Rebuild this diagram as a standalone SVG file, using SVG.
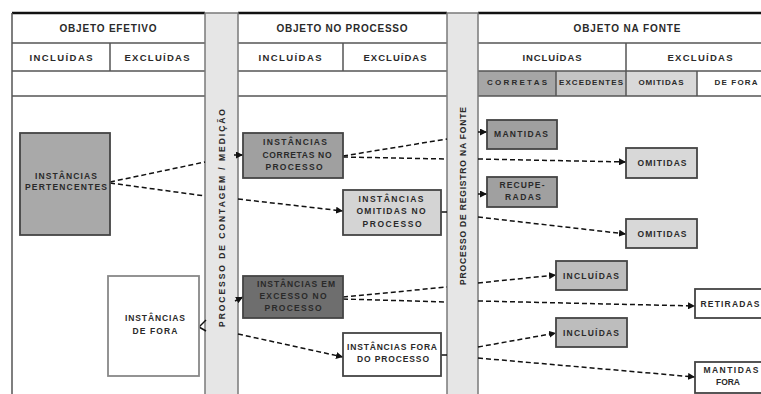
<svg xmlns="http://www.w3.org/2000/svg" width="761" height="394" viewBox="0 0 761 394">
<style>
text{font-family:"Liberation Sans",Arial,sans-serif;font-weight:bold;fill:#2a2a2a;text-anchor:middle}
.h1{font-size:10px}
.h2{font-size:9.5px}
.h3{font-size:8px}
.n{font-size:8.5px}
.bt{font-size:8.5px}
.grid{stroke:#555;stroke-width:1.5;fill:none}
.top{stroke:#111;stroke-width:2.5}
.bar{fill:#e6e6e6;stroke:#7a7a7a;stroke-width:1.5}
.node{stroke:#444;stroke-width:1.8}
.c{stroke:#111;stroke-width:1.5;stroke-dasharray:5 3;fill:none}
.s{stroke:#111;stroke-width:1.5;fill:none}
.a{marker-end:url(#ah)}
</style>
<defs>
<marker id="ah" viewBox="0 0 8 8" refX="8" refY="4" markerWidth="7" markerHeight="7" markerUnits="userSpaceOnUse" orient="auto">
<path d="M0,0 L8,4 L0,8 z" fill="#111"/>
</marker>
</defs>
<rect width="761" height="394" fill="#fff"/>

<g id="headers">
<rect x="478" y="71" width="78" height="25" fill="#a6a6a6"/>
<rect x="556" y="71" width="70" height="25" fill="#c4c4c4"/>
<rect x="626" y="71" width="71" height="25" fill="#d9d9d9"/>
<line class="top" x1="12" y1="13" x2="205" y2="13"/>
<line class="top" x1="238" y1="13" x2="447" y2="13"/>
<line class="top" x1="478" y1="13" x2="761" y2="13"/>
<path class="grid" d="M12,13 V394 M12,43 H205 M12,71 H205 M12,96 H205 M110,43 V71"/>
<path class="grid" d="M238,43 H447 M238,71 H447 M238,96 H447 M343,43 V71"/>
<path class="grid" d="M478,43 H761 M478,71 H761 M478,96 H761 M626,43 V96 M556,71 V96 M697,71 V96"/>
<text class="h1" x="108" y="32" textLength="97" lengthAdjust="spacing">OBJETO EFETIVO</text>
<text class="h2" x="61" y="61" textLength="63" lengthAdjust="spacing">INCLUÍDAS</text>
<text class="h2" x="157" y="61" textLength="65" lengthAdjust="spacing">EXCLUÍDAS</text>
<text class="h1" x="342" y="32" textLength="131" lengthAdjust="spacing">OBJETO NO PROCESSO</text>
<text class="h2" x="290" y="61" textLength="63" lengthAdjust="spacing">INCLUÍDAS</text>
<text class="h2" x="395" y="61" textLength="63" lengthAdjust="spacing">EXCLUÍDAS</text>
<text class="h1" x="627" y="32" textLength="107" lengthAdjust="spacing">OBJETO NA FONTE</text>
<text class="h2" x="552" y="61" textLength="59" lengthAdjust="spacing">INCLUÍDAS</text>
<text class="h2" x="700" y="61" textLength="65" lengthAdjust="spacing">EXCLUÍDAS</text>
<text class="h3" x="517" y="85" textLength="60" lengthAdjust="spacing">CORRETAS</text>
<text class="h3" x="591" y="85" textLength="64" lengthAdjust="spacing">EXCEDENTES</text>
<text class="h3" x="661" y="85" textLength="45" lengthAdjust="spacing">OMITIDAS</text>
<text class="h3" x="736" y="85" textLength="43" lengthAdjust="spacing">DE FORA</text>
</g>

<g id="bar-contagem">
<rect class="bar" x="205" y="13" width="33" height="385"/>
<text class="bt" transform="translate(224.5,218) rotate(-90)" textLength="218" lengthAdjust="spacing">PROCESSO DE CONTAGEM / MEDIÇÃO</text>
</g>
<g id="bar-registro">
<rect class="bar" x="447" y="13" width="31" height="385"/>
<text class="bt" transform="translate(465.5,196) rotate(-90)" textLength="178" lengthAdjust="spacing">PROCESSO DE REGISTRO NA FONTE</text>
</g>

<g id="connectors">
<path class="c" d="M110,182 L205,162"/>
<path class="c" d="M110,183 L205,196"/>
<path class="s a" d="M234,155 L243,155"/>
<path class="c a" d="M238,199 L343,211"/>
<path class="s" d="M199,327 L206,320"/>
<path class="s" d="M199,327 L206,331"/>
<path class="s a" d="M235,301 L243,297"/>
<path class="c a" d="M238,334 L343,357"/>
<path class="c" d="M343,156 L447,139"/>
<path class="c" d="M343,157 L447,159"/>
<path class="s a" d="M478,132 L487,132"/>
<path class="c a" d="M478,159 L626,162"/>
<path class="s" d="M441,212 L447,212"/>
<path class="s a" d="M478,194 L487,194"/>
<path class="c a" d="M478,217 L626,234"/>
<path class="c" d="M343,297 L447,287"/>
<path class="c" d="M343,299 L447,302"/>
<path class="c a" d="M478,283 L556,275"/>
<path class="c a" d="M478,301 L695,306"/>
<path class="s" d="M441,355 L447,355"/>
<path class="c a" d="M478,347 L556,333"/>
<path class="c a" d="M478,358 L695,377"/>
</g>

<g id="n-pertencentes">
<rect class="node" x="20" y="133" width="90" height="102" fill="#a9a9a9"/>
<text class="n" x="66" y="179" textLength="62" lengthAdjust="spacing">INSTÂNCIAS</text>
<text class="n" x="66" y="190" textLength="82" lengthAdjust="spacing">PERTENCENTES</text>
</g>
<g id="n-defora">
<rect x="108" y="276" width="91" height="100" fill="#fff" stroke="#888" stroke-width="1.8"/>
<text class="n" x="155" y="321" textLength="60" lengthAdjust="spacing">INSTÂNCIAS</text>
<text class="n" x="155" y="334" textLength="45" lengthAdjust="spacing">DE FORA</text>
</g>
<g id="n-corretas-proc">
<rect class="node" x="243" y="133" width="100" height="45" fill="#a0a0a0"/>
<text class="n" x="295" y="145" textLength="64" lengthAdjust="spacing">INSTÂNCIAS</text>
<text class="n" x="297" y="158" textLength="69" lengthAdjust="spacing">CORRETAS NO</text>
<text class="n" x="294" y="170" textLength="57" lengthAdjust="spacing">PROCESSO</text>
</g>
<g id="n-omitidas-proc">
<rect class="node" x="343" y="190" width="98" height="45" fill="#d4d4d4"/>
<text class="n" x="391" y="202" textLength="65" lengthAdjust="spacing">INSTÂNCIAS</text>
<text class="n" x="391" y="214" textLength="69" lengthAdjust="spacing">OMITIDAS NO</text>
<text class="n" x="392" y="227" textLength="59" lengthAdjust="spacing">PROCESSO</text>
</g>
<g id="n-excesso-proc">
<rect class="node" x="243" y="276" width="100" height="42" fill="#6e6e6e"/>
<text class="n" x="296" y="287" textLength="78" lengthAdjust="spacing">INSTÂNCIAS EM</text>
<text class="n" x="293" y="299" textLength="67" lengthAdjust="spacing">EXCESSO NO</text>
<text class="n" x="293" y="311" textLength="57" lengthAdjust="spacing">PROCESSO</text>
</g>
<g id="n-fora-proc">
<rect class="node" x="343" y="333" width="98" height="43" fill="#fff"/>
<text class="n" x="392" y="350" textLength="90" lengthAdjust="spacing">INSTÂNCIAS FORA</text>
<text class="n" x="393" y="362" textLength="72" lengthAdjust="spacing">DO PROCESSO</text>
</g>
<g id="n-mantidas">
<rect class="node" x="487" y="120" width="70" height="29" fill="#a0a0a0"/>
<text class="n" x="521" y="137" textLength="54" lengthAdjust="spacing">MANTIDAS</text>
</g>
<g id="n-omitidas1">
<rect class="node" x="626" y="148" width="71" height="30" fill="#d8d8d8"/>
<text class="n" x="662" y="166" textLength="49" lengthAdjust="spacing">OMITIDAS</text>
</g>
<g id="n-recuperadas">
<rect class="node" x="487" y="177" width="70" height="30" fill="#a0a0a0"/>
<text class="n" x="522" y="188" textLength="45" lengthAdjust="spacing">RECUPE-</text>
<text class="n" x="523" y="200" textLength="36" lengthAdjust="spacing">RADAS</text>
</g>
<g id="n-omitidas2">
<rect class="node" x="626" y="219" width="71" height="29" fill="#d8d8d8"/>
<text class="n" x="662" y="237" textLength="49" lengthAdjust="spacing">OMITIDAS</text>
</g>
<g id="n-incluidas1">
<rect class="node" x="556" y="261" width="71" height="29" fill="#bdbdbd"/>
<text class="n" x="591" y="279" textLength="56" lengthAdjust="spacing">INCLUÍDAS</text>
</g>
<g id="n-retiradas">
<rect class="node" x="695" y="289" width="70" height="29" fill="#fff"/>
<text class="n" x="730" y="307" textLength="59" lengthAdjust="spacing">RETIRADAS</text>
</g>
<g id="n-incluidas2">
<rect class="node" x="556" y="318" width="71" height="29" fill="#bdbdbd"/>
<text class="n" x="591" y="336" textLength="56" lengthAdjust="spacing">INCLUÍDAS</text>
</g>
<g id="n-mantidasfora">
<rect class="node" x="695" y="362" width="70" height="31" fill="#fff"/>
<text class="n" x="731" y="373" textLength="55" lengthAdjust="spacing">MANTIDAS</text>
<text class="n" x="728" y="385" textLength="24" lengthAdjust="spacing">FORA</text>
</g>
</svg>
